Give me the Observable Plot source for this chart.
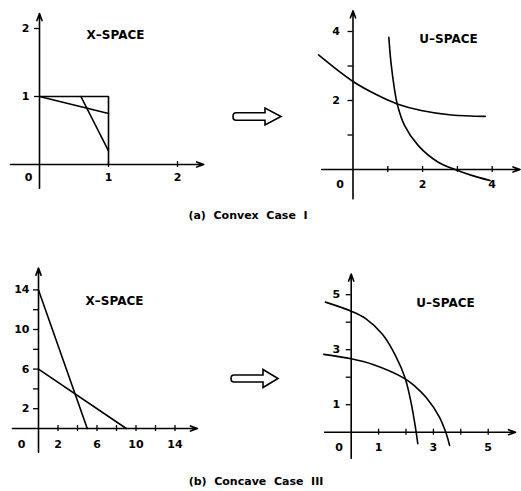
<!DOCTYPE html>
<html><head><meta charset="utf-8">
<script src="https://cdn.jsdelivr.net/npm/d3@7"></script>
<script src="https://cdn.jsdelivr.net/npm/@observablehq/plot@0.6"></script>
<style>
body{margin:0;background:#fff;}
#root{position:relative;width:521px;height:491px;overflow:hidden;font-family:"DejaVu Sans",sans-serif;background:#fff;}
.panel{position:absolute;}
.panel svg{overflow:visible;}
.cap{position:absolute;font-weight:bold;font-size:11px;white-space:pre;transform:translate(-50%,-50%);}
#deco{position:absolute;left:0;top:0;}
</style></head><body><div id="root"></div>
<script>
// ---- data ----
// (a) X-space: unit square edges and two limit-state lines
const aSquare = [[0,1],[1,1],[1,0]];
const aLine1 = [[0,1],[1,0.75]];
const aLine2 = [[0.6,1],[1,0.2]];
// (a) U-space curves
const bCurve1 = [[-0.99,3.32],[0,2.55],[0.71,2.15],[1.27,1.9],[1.96,1.71],[2.83,1.58],[3.8,1.54]];
const bCurve2 = [[1.03,3.83],[1.09,3.11],[1.19,2.34],[1.27,1.9],[1.48,1.28],[1.87,0.7],[2.45,0.21],[2.93,0],[3.41,-0.17],[3.94,-0.32]];
// (b) X-space lines
const cLine1 = [[0,14],[5,0]];
const cLine2 = [[0,6],[9,0]];
// (b) U-space curves
const dCurve1 = [[-0.94,4.73],[0,4.4],[0.53,4.13],[1.14,3.56],[1.63,2.76],[1.97,1.96],[2.18,1.1],[2.34,0.2],[2.43,-0.42]];
const dCurve2 = [[-1.0,2.83],[0,2.67],[0.77,2.47],[1.97,1.94],[2.35,1.65],[2.73,1.27],[3.22,0.55],[3.47,-0.06],[3.59,-0.48]];
// ticks and labels
const aXTicks = [1,2], aYTicks = [1,2], aXLabels = [1,2], aYLabels = [1,2];
const bXTicks = [1,2,3,4], bYTicks = [1,2,3,4], bXLabels = [2,4], bYLabels = [2,4];
const cXTicks = [2,4,6,8,10,12,14], cYTicks = [2,4,6,8,10,12,14], cXLabels = [2,6,10,14], cYLabels = [2,6,10,14];
const dXTicks = [1,2,3,4,5], dYTicks = [1,2,3,4,5], dXLabels = [1,3,5], dYLabels = [1,3,5];
const titles = ["X–SPACE","U–SPACE","X–SPACE","U–SPACE"];
const captions = ["(a)  Convex  Case  I","(b)  Concave  Case  III"];

// ---- layout ----
const panels = [
  {box:[0,0,260,235], origin:[39,164], unit:[69,68], xAxis:[-0.42,2.38], yAxis:[-0.35,2.22],
   xTicks:aXTicks, yTicks:aYTicks, xLabels:aXLabels, yLabels:aYLabels, title:titles[0], tpos:[115,35],
   lines:[aSquare,aLine1,aLine2], curve:"linear", xdy:13, ydx:-10, zero:[-11,13]},
  {box:[260,0,261,235], origin:[352.5,169], unit:[34.8,34.5], xAxis:[-0.9,4.8], yAxis:[-0.85,4.6],
   xTicks:bXTicks, yTicks:bYTicks, xLabels:bXLabels, yLabels:bYLabels, title:titles[1], tpos:[188,39],
   lines:[bCurve1,bCurve2], curve:"catmull-rom", xdy:15, ydx:-13, zero:[-13,15]},
  {box:[0,240,260,230], origin:[38,428], unit:[9.75,9.9], xAxis:[-2.67,16.3], yAxis:[-2.4,16.2],
   xTicks:cXTicks, yTicks:cYTicks, xLabels:cXLabels, yLabels:cYLabels, title:titles[2], tpos:[114,61],
   lines:[cLine1,cLine2], curve:"linear", xdy:16, ydx:-9, zero:[-17,16]},
  {box:[260,240,261,230], origin:[350.7,431.7], unit:[27.4,27.5], xAxis:[-0.97,6.0], yAxis:[-0.95,5.75],
   xTicks:dXTicks, yTicks:dYTicks, xLabels:dXLabels, yLabels:dYLabels, title:titles[3], tpos:[185,63],
   lines:[dCurve1,dCurve2], curve:"catmull-rom", xdy:15, ydx:-11, zero:[-12,15]}
];

const root = document.getElementById("root");
const SW = 1.6;
for (const p of panels) {
  const [bl, bt, w, h] = p.box;
  const oxr = p.origin[0] - bl, oyr = p.origin[1] - bt;
  const [ux, uy] = p.unit;
  const xd = [(0 - oxr)/ux, (w - oxr)/ux];
  const yd = [(oyr - h)/uy, oyr/uy];
  const tx = 3/uy, ty = 5/ux;
  const marks = [
    Plot.arrow([{x1:p.xAxis[0], y1:0, x2:p.xAxis[1], y2:0}], {x1:"x1", y1:"y1", x2:"x2", y2:"y2", stroke:"#000", strokeWidth:SW, headLength:7, headAngle:40}),
    Plot.arrow([{x1:0, y1:p.yAxis[0], x2:0, y2:p.yAxis[1]}], {x1:"x1", y1:"y1", x2:"x2", y2:"y2", stroke:"#000", strokeWidth:SW, headLength:7, headAngle:40}),
    Plot.ruleX(p.xTicks, {x: d=>d, y1: -tx, y2: tx, stroke:"#000", strokeWidth:1.3}),
    Plot.ruleY(p.yTicks, {y: d=>d, x1: -ty, x2: 0, stroke:"#000", strokeWidth:1.3}),
    ...p.lines.map(l => Plot.line(l, {x: d=>d[0], y: d=>d[1], curve:p.curve, stroke:"#000", strokeWidth:SW})),
    Plot.text(p.xLabels, {x: d=>d, y: 0, text: d=>String(d), dy: p.xdy, fontSize:11, fontWeight:"bold", fill:"#000"}),
    Plot.text(p.yLabels, {x: 0, y: d=>d, text: d=>String(d), dx: p.ydx, textAnchor:"end", fontSize:11, fontWeight:"bold", fill:"#000"}),
    Plot.text(["0"], {x: 0, y: 0, text: d=>d, dx: p.zero[0], dy: p.zero[1], fontSize:11, fontWeight:"bold", fill:"#000"}),
    Plot.text([p.title], {frameAnchor:"top-left", text: d=>d, dx: p.tpos[0], dy: p.tpos[1], textAnchor:"middle", lineAnchor:"middle", fontSize:12, fontWeight:"bold", fill:"#000"})
  ];
  const svg = Plot.plot({
    width: w, height: h, margin: 0,
    x: {domain: xd, axis: null},
    y: {domain: yd, axis: null},
    style: {background: "transparent", fontFamily: "DejaVu Sans, sans-serif", overflow: "visible"},
    marks
  });
  const div = document.createElement("div");
  div.className = "panel";
  div.style.left = bl + "px"; div.style.top = bt + "px";
  div.appendChild(svg);
  root.appendChild(div);
}

// hollow transform arrows between panels (decoration)
const ns = "http://www.w3.org/2000/svg";
const deco = document.createElementNS(ns, "svg");
deco.setAttribute("id","deco"); deco.setAttribute("width",521); deco.setAttribute("height",491);
function hollowArrow(x0, x1, xt, cy, sh, hh) {
  const d = `M${x0+3},${cy-sh} L${x1},${cy-sh} L${x1},${cy-hh} L${xt},${cy} L${x1},${cy+hh} L${x1},${cy+sh} L${x0+3},${cy+sh} Q${x0},${cy+sh} ${x0},${cy} Q${x0},${cy-sh} ${x0+3},${cy-sh} Z`;
  const path = document.createElementNS(ns, "path");
  path.setAttribute("d", d); path.setAttribute("fill","#fff"); path.setAttribute("stroke","#000");
  path.setAttribute("stroke-width","1.6"); path.setAttribute("stroke-linejoin","miter");
  deco.appendChild(path);
}
hollowArrow(233, 265, 281, 116.5, 3.8, 8.5);
hollowArrow(231, 263, 278, 378.5, 3.5, 9);
root.appendChild(deco);

const capPos = [[248,215],[256,481]];
captions.forEach((c, i) => {
  const el = document.createElement("div");
  el.className = "cap"; el.textContent = c;
  el.style.left = capPos[i][0] + "px"; el.style.top = capPos[i][1] + "px";
  root.appendChild(el);
});
</script></body></html>
